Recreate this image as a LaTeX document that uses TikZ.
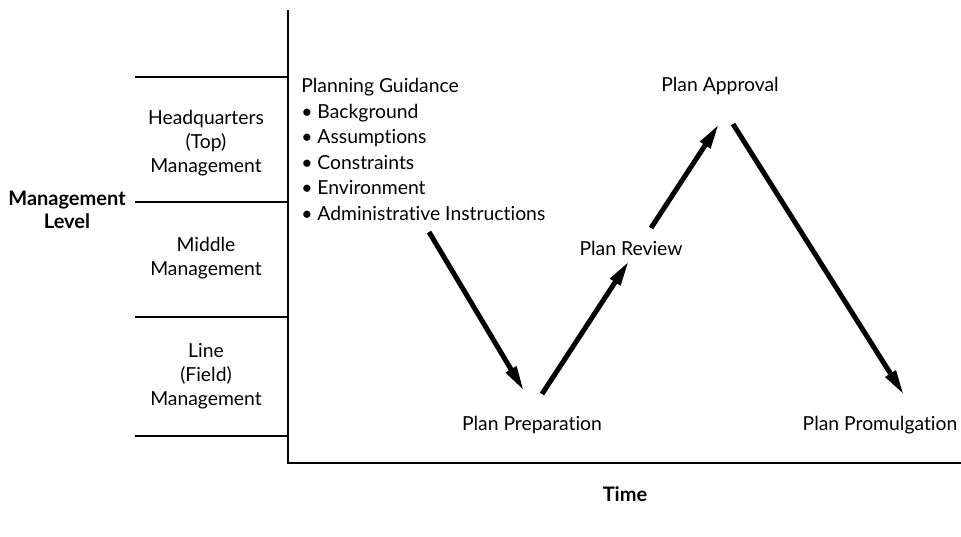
\documentclass[tikz,border=0pt]{standalone}
\usepackage{fontspec}
\setmainfont{Lato}[Ligatures=NoCommon]
\usetikzlibrary{arrows.meta, positioning}

\begin{document}
\begin{tikzpicture}[x=0.75pt, y=-0.75pt, font=\fontsize{14.5}{18.2}\selectfont]
    \tikzstyle{axis}=[draw=black, line width=1.1pt]
    \tikzstyle{level}=[align=center, inner sep=0pt]
    \tikzstyle{title}=[align=center, inner sep=0pt, font=\fontsize{15}{17.5}\selectfont\bfseries]
    \tikzstyle{stage}=[inner sep=0pt]
    \tikzstyle{flow}=[line width=3.75pt, -{Triangle[length=19pt, width=8.5pt]}]

    \useasboundingbox (0,0) rectangle (961,536);

    % Draw the axes
    \coordinate (O) at (288,463);
    \coordinate (Y) at (288,10);
    \coordinate (X) at (961,463);
    \draw[axis] (Y) -- (O) -- (X);

    % Draw the level separators
    \coordinate (L-1) at (135,77);
    \coordinate (L-2) at (135,202);
    \coordinate (L-3) at (135,317);
    \coordinate (L-4) at (135,436);
    \draw[axis] (L-1) -- (L-1 -| O);
    \draw[axis] (L-2) -- (L-2 -| O);
    \draw[axis] (L-3) -- (L-3 -| O);
    \draw[axis] (L-4) -- (L-4 -| O);

    % Level labels
    \node[level] (top) at (206,143) {Headquarters\\(Top)\\Management};
    \node[level] (middle) at (206,258) {Middle\\Management};
    \node[level] (field) at (206,376) {Line\\(Field)\\Management};
    \node[title] (level) at (67,210) {Management\\Level};
    \node[title] (time) at (625,494) {Time};

    % The stages
    \node[stage, align=left, anchor=north west, font=\fontsize{14.5}{19.2}\selectfont] (guidance) at (301,78)
        {Planning Guidance\\
         \textbullet\ Background\\
         \textbullet\ Assumptions\\
         \textbullet\ Constraints\\
         \textbullet\ Environment\\
         \textbullet\ Administrative Instructions};
    \node[stage] (preparation) at (532,425) {Plan Preparation};
    \node[stage] (review) at (631,248) {Plan Review};
    \node[stage] (approval) at (720,86) {Plan Approval};
    \node[stage] (promulgation) at (880,425) {Plan Promulgation};

    % Arrow ends
    \coordinate (A-1) at (429,232);
    \coordinate (B-1) at (524,391);
    \coordinate (A-2) at (542,394);
    \coordinate (B-2) at (629,261);
    \coordinate (A-3) at (651,228);
    \coordinate (B-3) at (719,124);
    \coordinate (A-4) at (733,124);
    \coordinate (B-4) at (904,395);

    \draw[flow] (A-1) -- (B-1);
    \draw[flow] (A-2) -- (B-2);
    \draw[flow] (A-3) -- (B-3);
    \draw[flow] (A-4) -- (B-4);
\end{tikzpicture}
\end{document}
